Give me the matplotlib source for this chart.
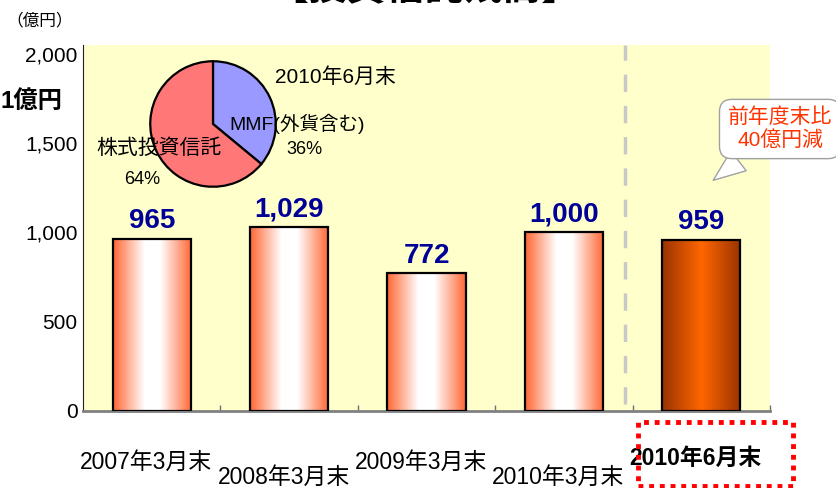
import numpy as np
import matplotlib
matplotlib.use("Agg")
import matplotlib.pyplot as plt
from matplotlib.colors import LinearSegmentedColormap
from matplotlib.patches import Rectangle
from matplotlib import transforms

plt.rcParams['font.family'] = ['Liberation Sans', 'Noto Sans CJK JP', 'DejaVu Sans']

periods = ["2007年3月末", "2008年3月末", "2009年3月末", "2010年3月末", "2010年6月末"]
balances = [965, 1029, 772, 1000, 959]
value_labels = ["965", "1,029", "772", "1,000", "959"]

pie_labels = ["MMF(外貨含む)", "株式投資信託"]
pie_shares = [36, 64]

fig = plt.figure(figsize=(8.36, 4.88), dpi=100)
ax = fig.add_axes([83 / 836, 77 / 488, 687 / 836, 366 / 488])
ax.set_facecolor("#FFFFCC")

light = LinearSegmentedColormap.from_list("light", ["#FF6633", "#FFB39A", "#FFFFFF", "#FFFFFF", "#FFB39A", "#FF6633"])
dark = LinearSegmentedColormap.from_list("dark", ["#993300", "#CC4D00", "#FF6600", "#CC4D00", "#993300"])
grad = np.linspace(0, 1, 256).reshape(1, -1)

w = 0.57
for i, (v, lab) in enumerate(zip(balances, value_labels)):
    cmap = dark if i == len(balances) - 1 else light
    ax.imshow(grad, cmap=cmap, extent=(i - w / 2, i + w / 2, 0, v), aspect='auto', zorder=2)
    ax.add_patch(Rectangle((i - w / 2, 0), w, v, fill=False, ec="black", lw=1.6, zorder=3))
    ax.text(i, v + 25, lab, ha='center', va='bottom', fontsize=20, fontweight='bold',
            color="#000099", zorder=4)

ax.set_xlim(-0.5, 4.5)
ax.set_ylim(0, 2050)

# separator between fiscal year ends and latest month
ax.plot([3.445, 3.445], [40, 2050], color="#C8C8C8", lw=2.5, ls=(0, (5, 4)), zorder=1)

ax.set_yticks([0, 500, 1000, 1500, 2000])
ax.set_yticklabels(["0", "500", "1,000", "1,500", "2,000"], fontsize=15)
ax.tick_params(axis='y', length=0, pad=4)
ax.set_xticks([0.5, 1.5, 2.5, 3.5, 4.5])
ax.set_xticklabels([])
ax.tick_params(axis='x', direction='in', length=4, color="#707070", width=1)
for s in ["top", "right"]:
    ax.spines[s].set_visible(False)
ax.spines["left"].set_color("#202020")
ax.spines["bottom"].set_color("#808080")
ax.spines["bottom"].set_linewidth(2)

# staggered category labels
tr = transforms.blended_transform_factory(ax.transData, fig.transFigure)
rows = [462, 477, 462, 477, 458]
for i, (p, r) in enumerate(zip(periods, rows)):
    bold = i == len(periods) - 1
    ax.text(i - 0.04, (488 - r) / 488, p, transform=tr, ha='center', va='center',
            fontsize=16.5, fontweight='bold' if bold else 'normal', clip_on=False)

fig.patches.append(Rectangle((638 / 836, 2 / 488), 155 / 836, 64 / 488, transform=fig.transFigure,
                             fill=False, ec="#FF0000", lw=3.5, ls=(0, (1, 1.2))))

fig.text(425 / 836, 1.022, "【投資信託残高】", ha='center', va='center', fontsize=28, fontweight='bold')
fig.text(6 / 836, (488 - 20) / 488, "（億円）", ha='left', va='center', fontsize=12)
fig.text(0, (488 - 101) / 488, "1億円", ha='left', va='center', fontsize=17.5, fontweight='bold')

# callout
ax.annotate("前年度末比\n40億円減", xy=(711 / 836, (488 - 182) / 488), xycoords='figure fraction',
            xytext=(780 / 836, (488 - 129) / 488), textcoords='figure fraction',
            ha='center', va='center', fontsize=15, color="#FF3300", linespacing=1.2,
            bbox=dict(boxstyle="round,pad=0.4,rounding_size=0.6", fc="white", ec="#A0A0A0", lw=1),
            arrowprops=dict(arrowstyle="wedge,tail_width=1.2,shrink_factor=0.5", fc="white", ec="#A0A0A0", lw=1),
            annotation_clip=False, zorder=5)

# composition pie
pax = fig.add_axes([149 / 836, 300 / 488, 128 / 836, 128 / 488])
pax.pie(pie_shares, colors=["#9999FF", "#FF7777"], startangle=90, counterclock=False,
        wedgeprops=dict(edgecolor="black", linewidth=1.6))
pax.set_xlim(-1.02, 1.02)
pax.set_ylim(-1.02, 1.02)
pax.set_aspect('equal')
fig.text(335 / 836, (488 - 77) / 488, "2010年6月末", ha='center', va='center', fontsize=15)
fig.text(297 / 836, (488 - 124) / 488, pie_labels[0], ha='center', va='center', fontsize=14)
fig.text(304 / 836, (488 - 149) / 488, f"{pie_shares[0]}%", ha='center', va='center', fontsize=13)
fig.text(159 / 836, (488 - 148) / 488, pie_labels[1], ha='center', va='center', fontsize=15)
fig.text(142 / 836, (488 - 180) / 488, f"{pie_shares[1]}%", ha='center', va='center', fontsize=13)

fig.savefig("out.png", dpi=100)
